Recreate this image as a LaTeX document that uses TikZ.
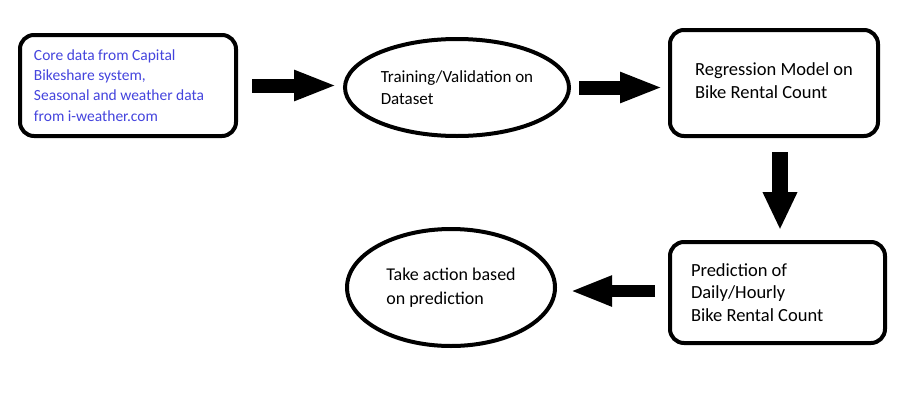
\documentclass[tikz,border=0pt]{standalone}
\usepackage{fontspec}
\setmainfont{Carlito}
\usepackage{xcolor}
\usetikzlibrary{shapes.geometric,arrows.meta}
\definecolor{coreblue}{RGB}{68,68,221}
\tikzset{
    flow-box/.style = {draw=black, line width=4pt, rectangle, rounded corners=14pt, inner sep=0pt, align=flush left, font=\fontsize{18.5pt}{22.5pt}\selectfont},
    flow-oval/.style = {draw=black, line width=4pt, ellipse, inner sep=0pt, align=flush left, font=\fontsize{18pt}{23pt}\selectfont},
    block-arrow/.style = {line width=14pt, -{Triangle[length=43pt, width=28pt]}},
}

\begin{document}
\begin{tikzpicture}[x=1pt, y=-1pt]
\useasboundingbox (0,0) rectangle (906,408);
\node [flow-box, minimum width=216pt, minimum height=101pt, text width=188pt, text=coreblue, font=\fontsize{15.5pt}{20.3pt}\selectfont] (core) at (128,85.5)
    {Core data from Capital\\Bikeshare system,\\Seasonal and weather data\\from i-weather.com\\[-5pt]};
\node [flow-oval, minimum width=224pt, minimum height=97pt, font=\fontsize{17pt}{22pt}\selectfont] (train) at (457,87.5)
    {Training/Validation on\\Dataset};
\node [flow-box, minimum width=208pt, minimum height=106pt] (model) at (774,83)
    {Regression Model on\\Bike Rental Count\\[-18pt]};
\node [flow-box, minimum width=215pt, minimum height=101pt, text width=173pt] (predict) at (777.5,292.5)
    {Prediction of\\Daily/Hourly\\Bike Rental Count};
\node [flow-oval, minimum width=208pt, minimum height=117pt, font=\fontsize{18pt}{24pt}\selectfont] (action) at (451,287.5)
    {Take action based\\on prediction};

\draw [block-arrow] ([xshift=14pt]core.east) -- ([xshift=-6pt]core.east -| train.west);
\draw [block-arrow] ([xshift=8pt]train.east) -- ([xshift=-5pt]train.east -| model.west);
\draw [block-arrow, line width=16pt, -{Triangle[length=38pt, width=32pt]}] ([xshift=6pt, yshift=-14pt]model.south) -- ([xshift=6pt, yshift=10pt]model.south |- predict.north);
\draw [block-arrow, line width=12pt, -{Triangle[length=42pt, width=28pt]}] ([xshift=-13pt, yshift=1.5pt]predict.west) -- ([xshift=13pt, yshift=1.5pt]predict.west -| action.east);
\end{tikzpicture}
\end{document}
